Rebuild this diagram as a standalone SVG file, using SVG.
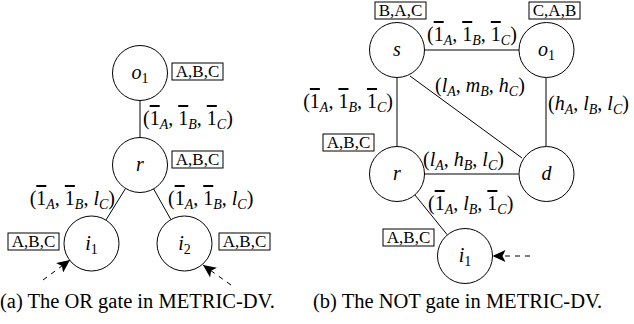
<svg xmlns="http://www.w3.org/2000/svg" width="634" height="324" viewBox="0 0 634 324" font-family="'Liberation Serif', 'Times New Roman', Tinos, 'DejaVu Serif', serif">
<style>
text{font-family:'Liberation Serif','Times New Roman',Tinos,'DejaVu Serif',serif}
.n{fill:#fff;stroke:#000;stroke-width:1}
.e{stroke:#000;stroke-width:1;fill:none}
.b{fill:#fff;stroke:#000;stroke-width:1}
.bt{font-size:17px;text-anchor:middle}
.m{font-size:20px;font-style:italic}
.nl{font-size:20px;font-style:italic;text-anchor:middle}
.u{font-style:normal}
.ob{font-style:normal;text-decoration:overline}
.s{font-size:14px}
.cap{font-size:20.5px}
.d{stroke:#000;stroke-width:1;stroke-dasharray:5,5;fill:none}
</style>
<defs>
<marker id="ah" markerUnits="userSpaceOnUse" markerWidth="14" markerHeight="12" viewBox="0 0 14 12" refX="13" refY="6" orient="auto">
<path d="M0,0 L13,6 L0,12 L3,6 Z" fill="#000"/>
</marker>
</defs>

<g id="connectors">
<line class="e" x1="140" y1="100.5" x2="140" y2="137.5"/>
<line class="e" x1="125.6" y1="188.4" x2="105.9" y2="220.1"/>
<line class="e" x1="153.6" y1="188.9" x2="170.9" y2="219.6"/>
<line class="d" x1="43" y1="280" x2="70" y2="260" marker-end="url(#ah)"/>
<line class="d" x1="231" y1="285" x2="203" y2="265" marker-end="url(#ah)"/>
<line class="e" x1="424.5" y1="50" x2="519" y2="50"/>
<line class="e" x1="397" y1="77.5" x2="397" y2="146.5"/>
<line class="e" x1="410" y1="76" x2="522" y2="158"/>
<line class="e" x1="546" y1="77.5" x2="546" y2="146.5"/>
<line class="e" x1="424.5" y1="174" x2="518.5" y2="174"/>
<line class="e" x1="414.9" y1="194.9" x2="447.1" y2="234.6"/>
<line class="d" x1="530" y1="256" x2="492.5" y2="256" marker-end="url(#ah)"/>
</g>

<g id="edge-labels" class="m">
<text x="143" y="125"><tspan class="u">(</tspan><tspan class="ob">1</tspan><tspan class="s" dy="4">A</tspan><tspan class="u" dy="-4">, </tspan><tspan class="ob">1</tspan><tspan class="s" dy="4">B</tspan><tspan class="u" dy="-4">, </tspan><tspan class="ob">1</tspan><tspan class="s" dy="4">C</tspan><tspan class="u" dy="-4">)</tspan></text>
<text x="115" y="205" text-anchor="end"><tspan class="u">(</tspan><tspan class="ob">1</tspan><tspan class="s" dy="4">A</tspan><tspan class="u" dy="-4">, </tspan><tspan class="ob">1</tspan><tspan class="s" dy="4">B</tspan><tspan class="u" dy="-4">, </tspan><tspan>l</tspan><tspan class="s" dy="4">C</tspan><tspan class="u" dy="-4">)</tspan></text>
<text x="168" y="205"><tspan class="u">(</tspan><tspan class="ob">1</tspan><tspan class="s" dy="4">A</tspan><tspan class="u" dy="-4">, </tspan><tspan class="ob">1</tspan><tspan class="s" dy="4">B</tspan><tspan class="u" dy="-4">, </tspan><tspan>l</tspan><tspan class="s" dy="4">C</tspan><tspan class="u" dy="-4">)</tspan></text>
<text x="427" y="41"><tspan class="u">(</tspan><tspan class="ob">1</tspan><tspan class="s" dy="4">A</tspan><tspan class="u" dy="-4">, </tspan><tspan class="ob">1</tspan><tspan class="s" dy="4">B</tspan><tspan class="u" dy="-4">, </tspan><tspan class="ob">1</tspan><tspan class="s" dy="4">C</tspan><tspan class="u" dy="-4">)</tspan></text>
<text x="393" y="108" text-anchor="end"><tspan class="u">(</tspan><tspan class="ob">1</tspan><tspan class="s" dy="4">A</tspan><tspan class="u" dy="-4">, </tspan><tspan class="ob">1</tspan><tspan class="s" dy="4">B</tspan><tspan class="u" dy="-4">, </tspan><tspan class="ob">1</tspan><tspan class="s" dy="4">C</tspan><tspan class="u" dy="-4">)</tspan></text>
<text x="435" y="92"><tspan class="u">(</tspan><tspan>l</tspan><tspan class="s" dy="4">A</tspan><tspan class="u" dy="-4">, </tspan><tspan>m</tspan><tspan class="s" dy="4">B</tspan><tspan class="u" dy="-4">, </tspan><tspan>h</tspan><tspan class="s" dy="4">C</tspan><tspan class="u" dy="-4">)</tspan></text>
<text x="548" y="110"><tspan class="u">(</tspan><tspan>h</tspan><tspan class="s" dy="4">A</tspan><tspan class="u" dy="-4">, </tspan><tspan>l</tspan><tspan class="s" dy="4">B</tspan><tspan class="u" dy="-4">, </tspan><tspan>l</tspan><tspan class="s" dy="4">C</tspan><tspan class="u" dy="-4">)</tspan></text>
<text x="423" y="166"><tspan class="u">(</tspan><tspan>l</tspan><tspan class="s" dy="4">A</tspan><tspan class="u" dy="-4">, </tspan><tspan>h</tspan><tspan class="s" dy="4">B</tspan><tspan class="u" dy="-4">, </tspan><tspan>l</tspan><tspan class="s" dy="4">C</tspan><tspan class="u" dy="-4">)</tspan></text>
<text x="428" y="210"><tspan class="u">(</tspan><tspan class="ob">1</tspan><tspan class="s" dy="4">A</tspan><tspan class="u" dy="-4">, </tspan><tspan>l</tspan><tspan class="s" dy="4">B</tspan><tspan class="u" dy="-4">, </tspan><tspan class="ob">1</tspan><tspan class="s" dy="4">C</tspan><tspan class="u" dy="-4">)</tspan></text>
</g>

<g id="a-o1">
<circle class="n" cx="140" cy="73" r="27.5"/>
<text class="nl" x="140" y="79">o<tspan class="s u" dy="4">1</tspan></text>
<rect class="b" x="172" y="63" width="51" height="17"/>
<text class="bt" x="197.5" y="77">A,B,C</text>
</g>
<g id="a-r">
<circle class="n" cx="140" cy="165" r="27.5"/>
<text class="nl" x="140" y="171">r</text>
<rect class="b" x="172" y="151" width="51" height="17"/>
<text class="bt" x="197.5" y="165">A,B,C</text>
</g>
<g id="a-i1">
<circle class="n" cx="91.5" cy="243.5" r="27.5"/>
<text class="nl" x="91.5" y="249.5">i<tspan class="s u" dy="4">1</tspan></text>
<rect class="b" x="8" y="233" width="51" height="17"/>
<text class="bt" x="33.5" y="247">A,B,C</text>
</g>
<g id="a-i2">
<circle class="n" cx="184.5" cy="243.5" r="27.5"/>
<text class="nl" x="184.5" y="249.5">i<tspan class="s u" dy="4">2</tspan></text>
<rect class="b" x="219" y="233" width="51" height="17"/>
<text class="bt" x="244.5" y="247">A,B,C</text>
</g>

<g id="b-s">
<circle class="n" cx="397" cy="50" r="27.5"/>
<text class="nl" x="397" y="56">s</text>
<rect class="b" x="375" y="2" width="51" height="17"/>
<text class="bt" x="400.5" y="16">B,A,C</text>
</g>
<g id="b-o1">
<circle class="n" cx="546.5" cy="50" r="27.5"/>
<text class="nl" x="546.5" y="56">o<tspan class="s u" dy="4">1</tspan></text>
<rect class="b" x="529" y="2" width="51" height="17"/>
<text class="bt" x="554.5" y="16">C,A,B</text>
</g>
<g id="b-r">
<circle class="n" cx="397" cy="174" r="27.5"/>
<text class="nl" x="397" y="180">r</text>
<rect class="b" x="323" y="134" width="51" height="17"/>
<text class="bt" x="348.5" y="148">A,B,C</text>
</g>
<g id="b-d">
<circle class="n" cx="546.5" cy="174" r="27.5"/>
<text class="nl" x="546.5" y="180">d</text>
</g>
<g id="b-i1">
<circle class="n" cx="465" cy="256" r="27.5"/>
<text class="nl" x="465" y="262">i<tspan class="s u" dy="4">1</tspan></text>
<rect class="b" x="383" y="229" width="51" height="17"/>
<text class="bt" x="408.5" y="243">A,B,C</text>
</g>

<g id="captions" class="cap">
<text x="0" y="308">(a) The OR gate in METRIC-DV.</text>
<text x="313" y="308">(b) The NOT gate in METRIC-DV.</text>
</g>
</svg>
